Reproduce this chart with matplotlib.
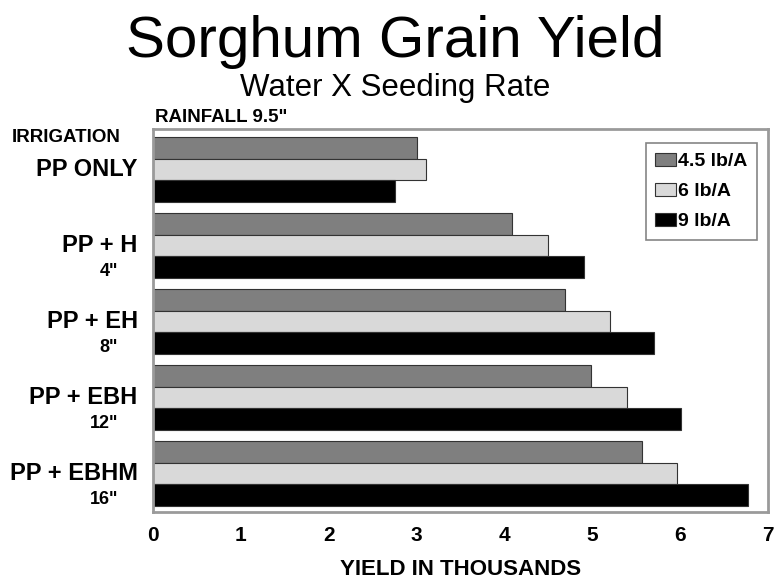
import matplotlib.pyplot as plt
import numpy as np

plt.rcParams['font.family'] = ['Liberation Sans', 'DejaVu Sans']

# data (yield in thousands)
treatments = ['PP ONLY', 'PP + H', 'PP + EH', 'PP + EBH', 'PP + EBHM']
water = ['', '4"', '8"', '12"', '16"']
rates = ['4.5 lb/A', '6 lb/A', '9 lb/A']
yield_45 = [3.0, 4.09, 4.69, 4.99, 5.57]
yield_6 = [3.11, 4.5, 5.2, 5.39, 5.96]
yield_9 = [2.75, 4.9, 5.7, 6.01, 6.77]

colors = ['#7f7f7f', '#d9d9d9', '#000000']

fig = plt.figure(figsize=(7.75, 5.84), dpi=100)
ax = fig.add_axes([0.1974, 0.1233, 0.7936, 0.6558])

step = 3.53
centers = np.arange(len(treatments)) * step
series = [yield_45, yield_6, yield_9]
for k, (vals, c) in enumerate(zip(series, colors)):
    ax.barh(centers + (k - 1), vals, height=1.0, color=c,
            edgecolor='#333333', linewidth=0.8, label=rates[k])

ax.set_xlim(0, 7)
ax.set_ylim(centers[-1] + 1.5 + 0.28, -1.5 - 0.37)
ax.set_yticks([])
ax.set_xticks(range(8))
ax.tick_params(axis='x', length=0, pad=10, labelsize=15)
for t in ax.get_xticklabels():
    t.set_fontweight('bold')
for s in ax.spines.values():
    s.set_color('#9a9a9a')
    s.set_linewidth(2)

# category labels left of the bars
for i, c in enumerate(centers):
    ax.annotate(treatments[i], xy=(0, c), xycoords=('axes fraction', 'data'),
                xytext=(-11, 0), textcoords='offset points',
                ha='right', va='center', fontsize=17, fontweight='bold')
    if water[i]:
        ax.annotate(water[i], xy=(0, c + 1), xycoords=('axes fraction', 'data'),
                    xytext=(-25, -3), textcoords='offset points',
                    ha='right', va='center', fontsize=13, fontweight='bold')

leg = ax.legend(loc='upper right', bbox_to_anchor=(0.982, 0.963), borderaxespad=0,
                fancybox=False, edgecolor='#666666', handlelength=1.05,
                handleheight=0.65, handletextpad=0.1, labelspacing=0.65,
                borderpad=0.5, prop={'weight': 'bold', 'size': 14})
leg.get_frame().set_linewidth(1.2)

fig.text(0.51, 0.928, 'Sorghum Grain Yield', ha='center', va='center', fontsize=42)
fig.text(0.51, 0.849, 'Water X Seeding Rate', ha='center', va='center', fontsize=22.5)
fig.text(0.2, 0.798, 'RAINFALL 9.5"', ha='left', va='center', fontsize=13.5, fontweight='bold')
fig.text(0.015, 0.764, 'IRRIGATION', ha='left', va='center', fontsize=13.5, fontweight='bold')
fig.text(0.594, 0.024, 'YIELD IN THOUSANDS', ha='center', va='center',
         fontsize=16, fontweight='bold')

fig.savefig('out.png', dpi=100)
